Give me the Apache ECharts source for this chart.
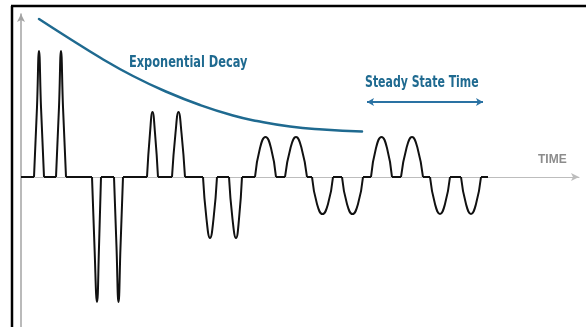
<!DOCTYPE html>
<html>
<head>
<meta charset="utf-8">
<script src="https://cdn.jsdelivr.net/npm/echarts@6/dist/echarts.min.js"></script>
<style>
  html, body { margin: 0; padding: 0; background: #fff; }
  #chart { width: 586px; height: 327px; }
</style>
</head>
<body>
<div id="chart"></div>
<script>
// time runs along x, signal amplitude on y (0 = baseline)
var baseSegs = [[0, 13], [23, 35], [45, 71], [80, 93], [102, 126], [137, 151], [164, 182], [196, 208],
    [221, 234], [255, 264], [286, 291], [312, 321], [342, 350], [371, 380], [402, 409], [429, 440], [460, 467]];

var pulses = [
    [[13, 0], [16, 70], [18, 126], [20, 70], [23, 0]],
    [[35, 0], [38, 70], [40, 126], [42, 70], [45, 0]],
    [[71, 0], [73.5, -70], [76, -125], [78, -70], [80, 0]],
    [[93, 0], [95.5, -70], [97.5, -125], [99.5, -70], [102, 0]],
    [[126, 0], [129, 44], [131.5, 65], [134, 44], [137, 0]],
    [[151, 0], [154.5, 44], [157.5, 65], [160.5, 44], [164, 0]],
    [[182, 0], [185.5, -42], [189, -61], [192.5, -42], [196, 0]],
    [[208, 0], [211.5, -42], [215, -61], [218, -42], [221, 0]],
    [[234, 0], [239, 29], [244.5, 40], [250, 29], [255, 0]],
    [[264, 0], [269.5, 29], [275, 40], [280.5, 29], [286, 0]],
    [[291, 0], [296, -27], [301.5, -37], [307, -27], [312, 0]],
    [[321, 0], [326, -27], [331.5, -37], [337, -27], [342, 0]],
    [[350, 0], [355, 29], [360.5, 40], [366, 29], [371, 0]],
    [[380, 0], [385.5, 29], [391, 40], [396.5, 29], [402, 0]],
    [[409, 0], [414, -27], [419, -37], [424, -27], [429, 0]],
    [[440, 0], [445, -27], [450, -37], [455, -27], [460, 0]]
];

var decayX = [18, 46, 79, 112, 146, 179, 212, 236, 269, 302, 341];
var decayY = [158, 140, 119.5, 101, 85, 72, 61.5, 56, 50.5, 47.5, 45.5];

var steadyFrom = 346, steadyTo = 462, steadyLevel = 75;

var blue = '#1f6a90';

var baseData = [];
baseSegs.forEach(function (s) {
    baseData.push([s[0], 0], [s[1], 0], null);
});
var pulseData = [];
pulses.forEach(function (p) {
    p.forEach(function (pt) { pulseData.push(pt); });
    pulseData.push(null);
});
var decayData = decayX.map(function (x, i) { return [x, decayY[i]]; });

var labelFont = 'bold 16px "Liberation Sans Narrow", "DejaVu Sans Condensed", sans-serif';

var chart = echarts.init(document.getElementById('chart'));
var option = {
    backgroundColor: '#fff',
    animation: false,
    grid: { left: 21, right: 7, top: 14, bottom: 0 },
    xAxis: {
        type: 'value', min: 0, max: 558,
        axisLine: { show: true, symbol: ['none', 'arrow'], symbolSize: [6, 8], lineStyle: { color: '#bdbdbd', width: 1 } },
        axisTick: { show: false }, axisLabel: { show: false }, splitLine: { show: false }
    },
    yAxis: {
        type: 'value', min: -150, max: 163,
        axisLine: { show: true, symbol: ['none', 'arrow'], symbolSize: [6, 8], lineStyle: { color: '#a3a3a3', width: 1.5 } },
        axisTick: { show: false }, axisLabel: { show: false }, splitLine: { show: false }
    },
    series: [
        {
            type: 'line', data: baseData, showSymbol: false, connectNulls: false,
            lineStyle: { color: '#111', width: 2 }, z: 3
        },
        {
            type: 'line', data: pulseData, smooth: true, showSymbol: false, connectNulls: false,
            lineStyle: { color: '#111', width: 2 }, z: 3
        },
        {
            type: 'line', data: decayData, smooth: true, showSymbol: false,
            lineStyle: { color: blue, width: 2.5, cap: 'round' }, z: 4,
            markLine: {
                silent: true, symbol: ['arrow', 'arrow'], symbolSize: [6, 7],
                label: { show: false },
                lineStyle: { color: '#2a72a3', width: 2, type: 'solid' },
                data: [[{ coord: [steadyFrom, steadyLevel] }, { coord: [steadyTo, steadyLevel] }]]
            }
        }
    ],
    graphic: [
        { type: 'line', shape: { x1: 12, y1: 6, x2: 12, y2: 327 }, style: { stroke: '#000', lineWidth: 2.5 } },
        { type: 'line', shape: { x1: 11, y1: 6, x2: 586, y2: 6 }, style: { stroke: '#000', lineWidth: 2.5 } },
        {
            type: 'text', x: 129, y: 63, scaleX: 0.79,
            style: { text: 'Exponential Decay', fill: blue, font: labelFont, textAlign: 'left', textVerticalAlign: 'middle' }
        },
        {
            type: 'text', x: 365, y: 83, scaleX: 0.76,
            style: { text: 'Steady State Time', fill: blue, font: labelFont, textAlign: 'left', textVerticalAlign: 'middle' }
        },
        {
            type: 'text', x: 538, y: 160,
            style: { text: 'TIME', fill: '#8c8c8c', font: 'bold 12px "Liberation Sans", Arial, sans-serif', textAlign: 'left', textVerticalAlign: 'middle' }
        }
    ]
};
chart.setOption(option);
</script>
</body>
</html>
